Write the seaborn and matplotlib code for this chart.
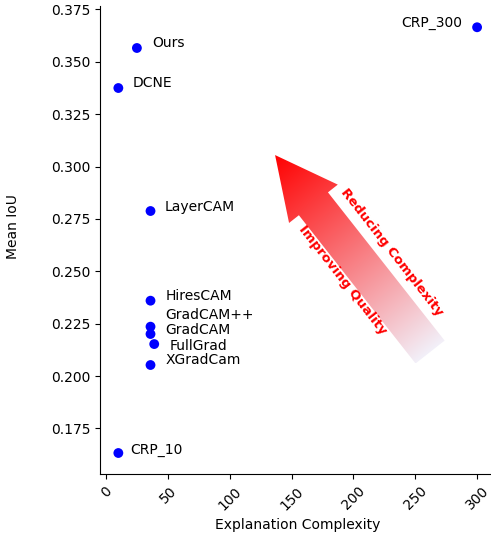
import numpy as np
import pandas as pd
import matplotlib
matplotlib.use("Agg")
import matplotlib.pyplot as plt
from matplotlib.patches import Polygon
import seaborn as sns

methods = ['Ours', 'DCNE', 'CRP_300', 'LayerCAM', 'HiresCAM', 'GradCAM++',
           'GradCAM', 'FullGrad', 'XGradCam', 'CRP_10']
complexity = [25, 10, 300, 36, 36, 36, 36, 39, 36, 10]
mean_iou = [0.3566, 0.3375, 0.3665, 0.2788, 0.2360, 0.2236,
            0.2201, 0.2153, 0.2053, 0.1633]

# label offsets in pixels (dx, dy), text centered vertically
label_offsets = {
    'Ours': (15, 5), 'DCNE': (14, 5), 'CRP_300': (-15, 4),
    'LayerCAM': (14, 4), 'HiresCAM': (15, 5), 'GradCAM++': (15, 12),
    'GradCAM': (15, 4), 'FullGrad': (15, -2), 'XGradCam': (15, 5),
    'CRP_10': (12, 3),
}

df = pd.DataFrame({'Method': methods, 'Complexity': complexity, 'IoU': mean_iou})

fig = plt.figure(figsize=(4.91, 5.35), dpi=100)
ax = fig.add_axes([0.2045, 0.1133, 0.8037, 0.8757])

sns.scatterplot(x='Complexity', y='IoU', data=df, color='blue', s=50,
                edgecolor='none', ax=ax, zorder=3)

for name, cx, cy in zip(methods, complexity, mean_iou):
    dx, dy = label_offsets[name]
    ax.annotate(name, (cx, cy), xytext=(dx, dy), textcoords='offset pixels',
                ha='right' if dx < 0 else 'left', va='center', fontsize=10)

ax.set_xlim(-4.5, 314.5)
ax.set_ylim(0.1531, 0.3767)
ax.set_xticks(np.arange(0, 301, 50))
ax.set_yticks(np.arange(0.175, 0.3751, 0.025))
ax.set_yticklabels([f'{v:.3f}' for v in np.arange(0.175, 0.3751, 0.025)])
plt.xticks(rotation=45)
ax.set_xlabel('Explanation Complexity')
ax.set_ylabel('Mean IoU')
ax.yaxis.set_label_coords(-0.2037, 0.53)
sns.despine(ax=ax)

# gradient arrow (tail -> tip) in data coords, shape built in pixels
tail = (262, 0.2115)
tip = (136.7, 0.3055)
fig.canvas.draw()
p0 = ax.transData.transform(tail)
p1 = ax.transData.transform(tip)
d = p1 - p0
L = np.hypot(*d)
u = d / L
n = np.array([-u[1], u[0]])
shaft_w, head_w, head_len = 37, 62, 62
base = p0 + u * (L - head_len)
pts = np.array([
    p0 + n * shaft_w / 2,
    base + n * shaft_w / 2,
    base + n * head_w / 2,
    p1,
    base - n * head_w / 2,
    base - n * shaft_w / 2,
    p0 - n * shaft_w / 2,
])
data_pts = ax.transData.inverted().transform(pts)
clip = Polygon(data_pts, closed=True, transform=ax.transData,
               facecolor='none', edgecolor='none')
ax.add_patch(clip)

xmin, ymin = data_pts.min(axis=0)
xmax, ymax = data_pts.max(axis=0)
gx = np.linspace(xmin, xmax, 300)
gy = np.linspace(ymax, ymin, 300)
GX, GY = np.meshgrid(gx, gy)
disp = ax.transData.transform(np.column_stack([GX.ravel(), GY.ravel()]))
t = ((disp - p0) @ u / L).reshape(GX.shape)
t = np.clip(t, 0, 1)
c_tail = np.array([0.95, 0.94, 0.975])
c_tip = np.array([1.0, 0.0, 0.0])
img = c_tail + (c_tip - c_tail) * t[..., None]
im = ax.imshow(img, extent=[xmin, xmax, ymin, ymax], aspect='auto',
               interpolation='bilinear', zorder=1)
im.set_clip_path(clip)
ax.set_xlim(-4.5, 314.5)
ax.set_ylim(0.1531, 0.3767)

ax.text(231.3, 0.2592, 'Reducing Complexity', color='red', fontsize=9.5,
        fontweight='bold', rotation=-52, ha='center', va='center', zorder=4)
ax.text(191.6, 0.2459, 'Improving Quality', color='red', fontsize=9.5,
        fontweight='bold', rotation=-52, ha='center', va='center', zorder=4)

fig.savefig('out.png', dpi=100)
